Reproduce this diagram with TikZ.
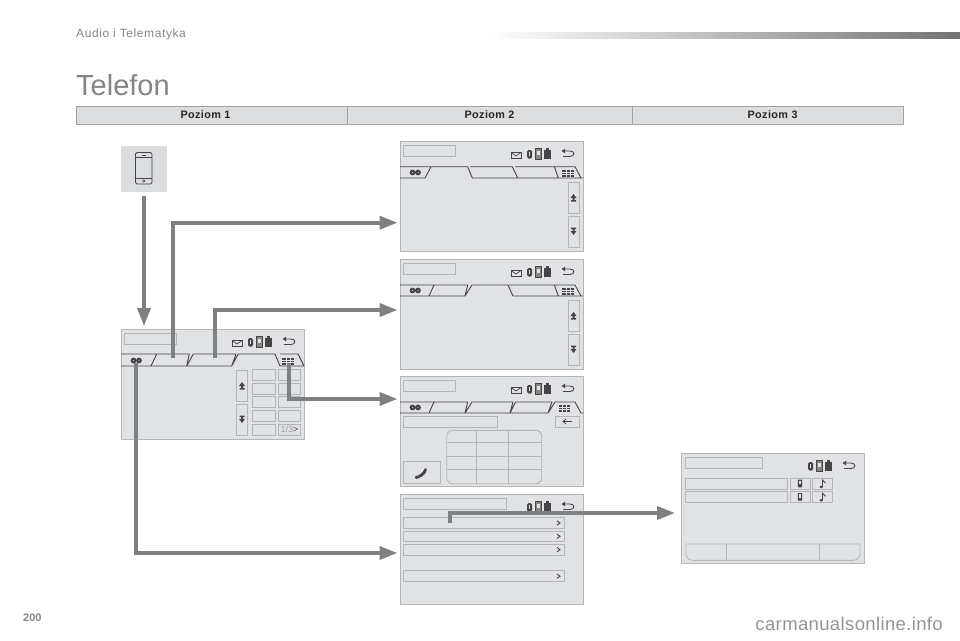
\documentclass[tikz,border=0pt]{standalone}
\usepackage{fontspec}
\setmainfont{Liberation Sans}
\newfontfamily\spacedfont[LetterSpace=5]{Liberation Sans}
\newfontfamily\headfont[LetterSpace=4]{Liberation Sans}
\newfontfamily\wmfont[LetterSpace=2]{Liberation Sans}
\usetikzlibrary{arrows.meta}
\definecolor{scrbg}{HTML}{E1E2E4}
\definecolor{boxln}{HTML}{B4B5B7}
\definecolor{darkln}{HTML}{454547}
\definecolor{arrowc}{HTML}{7F8082}
\definecolor{headbg}{HTML}{DCDDDF}
\definecolor{headln}{HTML}{A2A3A5}
\definecolor{txtgray}{HTML}{848587}
\tikzset{
  x=1pt,y=-1pt,
  screenbox/.style={draw=boxln,line width=0.8pt,fill=scrbg,minimum width=183pt,minimum height=110pt,inner sep=0pt,outer sep=0pt,anchor=north west},
  ubox/.style={draw=boxln,line width=0.9pt},
  tabline/.style={draw=darkln,line width=0.9pt,line join=round},
  conn/.style={draw=arrowc,line width=3.6pt,-{Triangle[length=18pt,width=13pt]}},
  headcell/.style={draw=headln,line width=1pt,fill=headbg,minimum height=18pt,inner sep=0pt,outer sep=0pt,anchor=north west,font=\fontsize{10.8}{12}\headfont\bfseries,text=black!85},
}
% status icons, relative to the screen origin
\newcommand\statusicons{%
  % bluetooth
  \fill[darkln,rounded corners=1.5pt] (127,9) rectangle (132,17.5);
  \fill[scrbg] (128.8,11.3) rectangle (130.2,15.3);
  % phone
  \fill[darkln!65,rounded corners=0.6pt] (135,7.5) rectangle (141.5,18);
  \draw[darkln,line width=0.7pt] (135,7.5) rectangle (141.5,18);
  \fill[scrbg] (136.8,9.5) rectangle (139.7,13.5);
  % battery
  \fill[darkln] (143.5,9) rectangle (150.5,18);
  \fill[darkln] (145.5,7) rectangle (148.5,9);
  % back arrow
  \draw[darkln,line width=0.9pt] (163,10) -- (170,10) .. controls (175,10) and (175,15.5) .. (170,15.5) -- (163,15.5);
  \fill[darkln] (161.5,10) -- (165,7.7) -- (165,12.3) -- cycle;
}
\newcommand\mailicon{%
  \draw[darkln,line width=0.9pt,fill=scrbg] (111,11.5) rectangle (121,17.5);
  \draw[darkln,line width=0.7pt] (111,11.5) -- (116,15) -- (121,11.5);
}
\newcommand\titlebox[1]{\draw[ubox] (3.5,4.5) rectangle (#1,15.5);}
\newcommand\chainicon{%
  \fill[darkln] (12.5,31.5) circle (2.9pt) (18,31.5) circle (2.9pt);
  \fill[scrbg] (12.5,31.5) circle (0.5pt) (18,31.5) circle (0.5pt);
}
\newcommand\gridicon[1]{%
  \begin{scope}[shift={(#1,28.5)}]
    \fill[darkln] (0,0) rectangle (11.5,7);
    \draw[scrbg,line width=0.35pt] (3.8,0) -- (3.8,7) (7.7,0) -- (7.7,7) (0,2.3) -- (11.5,2.3) (0,4.7) -- (11.5,4.7);
  \end{scope}
}
\newcommand\updown[1]{%
  \draw[ubox] (#1,41.7) rectangle ++(11,31);
  \draw[ubox] (#1,75) rectangle ++(11,31);
  \begin{scope}[shift={(#1,0)}]
    \fill[darkln] (5.5,53) -- (8.5,57) -- (6.5,57) -- (6.5,59) -- (8,59) -- (8,60.5) -- (3,60.5) -- (3,59) -- (4.5,59) -- (4.5,57) -- (2.5,57) -- cycle;
    \fill[darkln] (5.5,94) -- (8.5,90) -- (6.5,90) -- (6.5,88) -- (8,88) -- (8,86.5) -- (3,86.5) -- (3,88) -- (4.5,88) -- (4.5,90) -- (2.5,90) -- cycle;
  \end{scope}
}
\newcommand\chev[1]{\draw[darkln,line width=0.9pt] (157,#1-2.2) -- (160,#1) -- (157,#1+2.2);}
\newcommand\note[2]{%
  \begin{scope}[shift={(#1,#2)}]
    \draw[darkln,line width=0.8pt] (0,3.5) -- (0,-3.5) -- (3,-0.5);
    \fill[darkln] (-1.3,3.5) ellipse (1.8pt and 1.4pt);
  \end{scope}
}
\newcommand\smallphone[2]{%
  \fill[darkln,rounded corners=0.5pt] (#1-2.2,#2-3.8) rectangle (#1+2.2,#2+3.8);
  \fill[scrbg] (#1-1.1,#2-2.4) rectangle (#1+1.1,#2+0.8);
}
\begin{document}
\begin{tikzpicture}
\useasboundingbox (0,0) rectangle (960,640);
\fill[white] (0,0) rectangle (960,640);

% running head
\node[anchor=west,inner sep=0pt,text=txtgray,font=\fontsize{12}{14}\spacedfont] (runhead) at (76,34.5) {Audio i Telematyka};
\shade[left color=white,right color=arrowc!90!black] (490,32) rectangle (960,38);
\node[anchor=west,inner sep=0pt,text=txtgray,font=\fontsize{29}{33}\selectfont] (title) at (76,85.5) {Telefon};

% table header
\node[headcell,minimum width=271pt] (h1) at (76,106) {\hspace*{-12pt}Poziom 1};
\node[headcell,minimum width=285pt] (h2) at (347,106) {Poziom 2};
\node[headcell,minimum width=271pt] (h3) at (632,106) {\hspace*{10pt}Poziom 3};

% phone button
\node[fill=headbg,minimum width=46pt,minimum height=46pt,inner sep=0pt,anchor=north west] (phonebtn) at (121,146) {};
\draw[darkln,line width=0.9pt,rounded corners=1.5pt] (135.5,152.5) rectangle (152,184);
\draw[darkln,line width=0.7pt] (135.5,157) -- (152,157) (135.5,178) -- (152,178);
\draw[darkln,line width=0.5pt] (142,154.8) -- (145.5,154.8);
\draw[darkln,line width=0.5pt] (143.7,181) circle (1.3pt);

% ---------- Level 1 screen
\node[screenbox] (s0) at (121,329) {};
\begin{scope}[shift={(121,329)}]
  \draw[ubox] (3.5,4.5) rectangle (55.5,15.5);
  \mailicon \statusicons
  \draw[tabline] (0,25) -- (35.7,25) (0,37) -- (30,37) -- (35.7,25)
     (35.7,25) -- (68.3,25) -- (65.7,37) -- (30,37)
     (72.3,25) -- (115,25) -- (110.7,37) -- (65.7,37) -- (72.3,25)
     (117.3,25) -- (110.7,37)
     (117.3,25) -- (154,25) -- (159,37) -- (183,37)
     (159,25) -- (177,25) -- (183,37);
  \chainicon \gridicon{161}
  \draw[ubox] (115.7,41.7) rectangle (126.3,72.7);
  \draw[ubox] (115.7,75) rectangle (126.3,106);
  \begin{scope}[shift={(115.5,0)}]
    \fill[darkln] (5.5,53) -- (8.5,57) -- (6.5,57) -- (6.5,59) -- (8,59) -- (8,60.5) -- (3,60.5) -- (3,59) -- (4.5,59) -- (4.5,57) -- (2.5,57) -- cycle;
    \fill[darkln] (5.5,94) -- (8.5,90) -- (6.5,90) -- (6.5,88) -- (8,88) -- (8,86.5) -- (3,86.5) -- (3,88) -- (4.5,88) -- (4.5,90) -- (2.5,90) -- cycle;
  \end{scope}
  \draw[ubox] (131.7,40.3) rectangle (154.7,51.7) (157.3,40.3) rectangle (179.7,51.7)
              (131.7,54.3) rectangle (154.7,65) (157.3,54.3) rectangle (179.7,65)
              (131.7,67.7) rectangle (154.7,78.3) (157.3,67.7) rectangle (179.7,78.3)
              (131.7,81) rectangle (154.7,92.7) (157.3,81) rectangle (179.7,92.7)
              (131.7,95) rectangle (154.7,106) (157.3,95) rectangle (179.7,106);
  \node[inner sep=0pt,text=boxln!85!black,font=\fontsize{9}{9}\selectfont] (pg) at (168.5,100.5) {1/3{\textcolor{darkln}{>}}};
\end{scope}

% ---------- Level 2, screen A
\node[screenbox] (s1) at (400,141) {};
\begin{scope}[shift={(400,141)}]
  \titlebox{55.5} \mailicon \statusicons
  \draw[tabline] (0,25.7) -- (31,25.7) -- (67.7,25.7) -- (72.3,37) -- (117.7,37) -- (158.3,37) -- (154.3,25.7) -- (175,25.7) -- (181,37) -- (183,37)
     (0,37) -- (25,37) -- (31,25.7)
     (70,25.7) -- (112.3,25.7) -- (117.7,37)
     (115,25.7) -- (154.3,25.7)
     (158.3,37) -- (181,37);
  \chainicon \gridicon{162}
  \updown{168}
\end{scope}

% ---------- Level 2, screen B
\node[screenbox] (s2) at (400,259) {};
\begin{scope}[shift={(400,259)}]
  \titlebox{55.5} \mailicon \statusicons
  \draw[tabline] (0,26) -- (34,26) -- (67.7,26) -- (65,37) -- (29,37) -- (34,26)
     (0,37) -- (29,37)
     (65,37) -- (72,26) -- (108,26) -- (113,37) -- (158.3,37) -- (154.3,26) -- (175,26) -- (181,37) -- (183,37)
     (109,26) -- (154.3,26)
     (158.3,37) -- (181,37);
  \chainicon \gridicon{162}
  \updown{168}
\end{scope}

% ---------- Level 2, screen C
\node[screenbox] (s3) at (400,376) {};
\begin{scope}[shift={(400,376)}]
  \titlebox{55.5} \mailicon \statusicons
  \draw[tabline] (0,26) -- (34,26) -- (67.7,26) -- (65,37) -- (29,37) -- (34,26)
     (0,37) -- (29,37)
     (65,37) -- (72,26) -- (113,26) -- (110,37) -- (65,37)
     (115.5,26) -- (152,26) -- (148,37) -- (110,37) -- (115.5,26)
     (148,37) -- (155,26) -- (175,26) -- (181,37) -- (183,37);
  \chainicon \gridicon{158.5}
  \draw[ubox] (3.3,40) rectangle (97.7,51);
  \draw[ubox] (155,40) rectangle (179,51);
  \draw[darkln,line width=0.8pt] (163,45.5) -- (172,45.5);
  \draw[darkln,line width=0.8pt] (166,43) -- (163,45.5) -- (166,48);
  \draw[ubox,rounded corners=6pt] (46.7,54.3) rectangle (141.7,107.7);
  \draw[ubox] (76.7,54.3) -- (76.7,107.7) (108.3,54.3) -- (108.3,107.7)
              (46.7,66) -- (141.7,66) (46.7,80) -- (141.7,80) (46.7,93.7) -- (141.7,93.7);
  \draw[ubox] (3.3,85.3) rectangle (40,107.7);
  \draw[darkln,line width=2.8pt,line cap=round] (16,101.5) .. controls (20,101) and (25,97) .. (25.5,93.5);
\end{scope}

% ---------- Level 2, screen D
\node[screenbox] (s4) at (400,494) {};
\begin{scope}[shift={(400,494)}]
  \titlebox{106.7} \statusicons
  \draw[ubox] (3.3,23.3) rectangle (164,34.3) (3.3,37) rectangle (164,47.7)
              (3.3,50.3) rectangle (164,61) (3.3,76.7) rectangle (164,87.7);
  \chev{29} \chev{42.3} \chev{55.7} \chev{82.2}
\end{scope}

% ---------- Level 3 screen
\node[screenbox] (s5) at (681,453) {};
\begin{scope}[shift={(681,453)}]
  \draw[ubox] (4,4) rectangle (81.7,15);
  \statusicons
  \draw[ubox] (4,25) rectangle (106.7,36) (4,38.3) rectangle (106.7,49.3)
              (109.3,25) rectangle (129,36) (109.3,38.3) rectangle (129,49.3)
              (131.3,25) rectangle (151.3,36) (131.3,38.3) rectangle (151.3,49.3);
  \smallphone{119}{30.5} \smallphone{119}{43.8}
  \note{141.5}{30.5} \note{141.5}{43.8}
  \draw[ubox] (5,91) -- (179,91) -- (179,100) .. controls (179,105) and (176,107.3) .. (172,107.3) -- (12,107.3) .. controls (8,107.3) and (5,105) .. (5,100) -- cycle;
  \draw[ubox] (45.7,91) -- (45.7,107.3) (138.3,91) -- (138.3,107.3);
\end{scope}

% ---------- connectors
\coordinate (p0e) at (144,326);
\coordinate (t2) at (173,358);
\coordinate (t3) at (215,358);
\coordinate (t5) at (289,363);
\coordinate (t1) at (136,363);
\coordinate (r4) at (450,523);
\coordinate (e1) at (397.5,222.7);
\coordinate (e2) at (397.5,310);
\coordinate (e3) at (397.5,399);
\coordinate (e4) at (397.5,553);
\coordinate (e5) at (675,513);
\draw[conn] (phonebtn.south -| p0e) ++(0,4) -- (p0e);
\draw[conn] (t2) |- (e1);
\draw[conn] (t3) |- (e2);
\draw[conn] (t5) |- (e3);
\draw[conn] (t1) |- (e4);
\draw[conn] (r4) |- (e5);

% page number and footer
\node[anchor=west,inner sep=0pt,text=txtgray,font=\fontsize{11}{13}\bfseries] (pageno) at (23,617.5) {200};
\node[anchor=east,inner sep=0pt,text=black!42,font=\fontsize{18.5}{20}\wmfont] (wm) at (943,623.5) {carmanualsonline.info};
\end{tikzpicture}
\end{document}
